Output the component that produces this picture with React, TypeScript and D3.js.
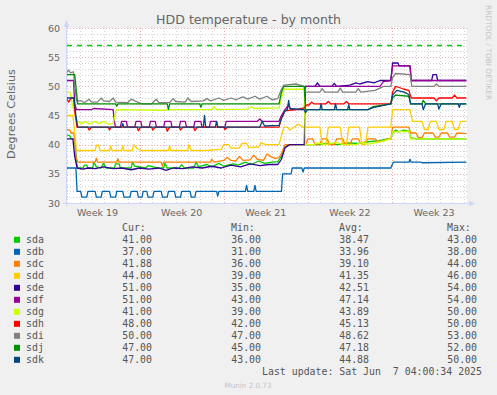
import React from 'react';
import * as d3 from 'd3';

// munin "HDD temperature - by month"
const W = 497;
const H = 395;
const plot = { left: 67, top: 28, width: 400, height: 175 };

// time is kept in days counted from Sun 4 May 2025 00:00 UTC
const DAY0 = Date.UTC(2025, 4, 4);
const toDate = (d: number) => new Date(DAY0 + d * 864e5);
const timeDomain = [0.96, 34.24];

const weekLabels = ['Week 19', 'Week 20', 'Week 21', 'Week 22', 'Week 23'];
const weekLabelDays = [3.5, 10.5, 17.5, 24.5, 31.5];

const yDomain = [30, 60];
const warning = [[0.96, 57], [33.82, 57]];

const names = ['sda', 'sdb', 'sdc', 'sdd', 'sde', 'sdf', 'sdg', 'sdh', 'sdi', 'sdj', 'sdk'];
const colors = ['#00CC00', '#0066B3', '#FF8000', '#FFCC00', '#330099', '#990099', '#CCFF00', '#FF0000', '#808080', '#008F00', '#00487D'];
const curVals = ['41.00', '37.00', '41.88', '44.00', '51.00', '51.00', '41.00', '48.00', '50.00', '47.00', '47.00'];
const minVals = ['36.00', '31.00', '36.00', '39.00', '35.00', '43.00', '39.00', '42.00', '47.00', '45.00', '43.00'];
const avgVals = ['38.47', '33.96', '39.10', '41.35', '42.51', '47.14', '43.89', '45.13', '48.62', '47.18', '44.88'];
const maxVals = ['43.00', '38.00', '44.00', '46.00', '54.00', '54.00', '50.00', '50.00', '53.00', '52.00', '50.00'];

const sda = [[0.96,41.7],[1.2,41.5],[1.3,41],[1.6,41],[1.75,37],[1.85,36],[2.3,36],[2.4,36.5],[2.6,36.5],[2.7,36],[3.1,36],[3.2,37],[3.4,36.2],[3.8,36],[4.0,36.8],[4.2,36],[4.9,36],[5.0,36.7],[5.3,36.7],[5.4,36],[6.3,36],[6.4,37],[6.6,36.3],[7.5,36],[7.7,36.4],[8.5,36],[9.0,36],[9.1,36.8],[9.3,36],[10.3,36],[10.5,36.6],[10.7,36],[11.5,36],[11.7,37],[11.9,36.2],[12.6,36.6],[13.0,36.2],[13.6,36.8],[14.0,36.3],[14.8,36.7],[15.2,36.5],[15.8,37],[16.3,36.6],[16.9,37.2],[17.4,36.8],[18.0,37],[18.5,37.1],[18.8,38],[19.1,39.5],[19.4,40],[20.8,40],[22.0,40],[22.5,40.2],[23.5,40],[24.3,40.3],[25.2,40.2],[26,40.5],[27,40.7],[27.6,41],[27.9,41],[28.05,42],[28.3,42.5],[28.6,42.2],[29.0,42.5],[29.4,42.3],[29.55,41.2],[30,41],[34.18,41]];
const sdb = [[0.96,36],[1.7,36],[1.8,32],[2.1,32],[2.2,31],[2.6,31],[2.7,32],[3.3,32],[3.4,31],[3.8,31],[3.9,32],[4.5,32],[4.6,31],[5.0,31],[5.1,32],[5.6,32],[5.7,31],[6.2,31],[6.3,32],[6.8,32],[6.9,31],[7.2,31],[7.3,32],[7.6,32],[7.7,31],[8.1,31],[8.2,32],[8.8,32],[8.9,31],[9.3,31],[9.4,32],[9.9,32],[10.0,31],[10.4,31],[10.5,32],[11.2,32],[11.3,31],[11.6,31],[11.7,32],[13.4,32],[13.5,31.2],[13.6,32],[15.8,32],[15.9,33],[16.0,32],[16.5,32],[16.6,33],[16.7,32],[18.8,32],[18.9,35],[19.6,35],[19.7,36],[20.5,36],[20.6,35.3],[20.7,36],[27.9,36],[28.1,37],[29.4,37],[29.5,37.5],[29.6,37],[30.4,37],[30.5,36.9],[34.18,37]];
const sdc = [[0.96,42.6],[1.2,42.5],[1.3,42],[1.5,42],[1.6,41],[1.7,38],[1.85,37],[3.3,37],[3.4,37.7],[3.5,37],[5.1,37],[5.2,37.6],[5.3,37],[8.8,37],[8.9,36.3],[9.0,37],[12.9,37],[13.0,37.5],[13.2,37],[14.0,37.3],[14.3,37.8],[14.6,37.3],[15.0,37.2],[15.3,38],[15.6,37.3],[16.2,37.4],[16.5,38.2],[16.8,37.5],[17.3,37.3],[17.6,38.4],[17.9,38],[18.3,37.6],[18.6,37.8],[18.8,38.5],[19.1,40],[20.8,40],[21.0,41],[21.4,41],[21.6,40],[22.0,40.2],[22.2,41],[22.6,41],[22.8,40],[23.2,40],[23.4,41],[23.9,41],[24.1,40],[24.5,40],[24.7,41],[25.2,41],[25.4,40.2],[25.8,40.5],[26.0,41],[26.6,41],[26.8,40.5],[27.3,40.6],[27.6,41],[27.9,41],[28.05,43],[29.4,43],[29.55,42],[30.0,42],[30.2,41.2],[30.5,41.2],[30.7,42],[31.4,42],[31.6,41.3],[31.9,41.3],[32.1,42],[32.6,42],[32.8,41.3],[33.2,41.3],[33.4,42],[34.18,41.9]];
const sdd = [[0.96,45],[1.45,45],[1.6,42],[1.75,39],[3.3,39],[3.4,39.9],[3.6,39.9],[3.7,39],[4.5,39],[4.6,39.8],[4.7,39],[5.5,39],[5.6,39.8],[5.7,39],[6.4,39],[6.5,40],[6.8,39.3],[7.2,39],[9.4,39],[9.5,39.8],[9.6,39],[11.0,39],[11.1,40],[11.3,39],[12.5,39],[13.8,39.2],[14.0,40],[14.4,40],[14.6,39.4],[15.3,39.4],[15.5,40.2],[15.9,40.2],[16.1,39.5],[16.9,39.6],[17.1,40.3],[17.5,40],[18.6,40],[18.8,41.5],[19.0,43],[19.3,43],[19.5,42.5],[20.2,43.5],[20.6,43],[22.0,43],[22.2,40],[22.5,40],[22.7,43],[23.7,43],[23.9,40],[24.2,40],[24.4,43],[25.3,43],[25.5,40],[25.8,40],[26.0,43],[27.9,43],[28.05,46],[29.5,46],[29.7,44],[30.5,44],[30.7,42.6],[31,42.6],[31.2,44],[31.7,44],[31.9,42.6],[32.3,42.6],[32.5,44],[33.0,44],[33.2,42.6],[33.5,42.6],[33.7,44],[34.18,44]];
const sde = [[0.96,41],[1.45,41],[1.6,38],[1.8,36],[2.3,35.8],[2.7,36],[3.3,35.9],[4.0,36.2],[4.8,35.9],[5.5,36],[6.3,35.7],[7.0,36],[7.8,35.8],[8.6,36],[9.2,35.6],[9.8,36],[10.6,35.9],[11.4,36.2],[12.2,36],[13.0,36.3],[13.8,36],[14.6,36.5],[15.4,36.2],[16.2,36.7],[17.0,36.4],[17.8,36.6],[18.5,36.6],[18.8,37.5],[19.1,39.5],[19.5,40],[20.7,40],[20.8,50],[21.6,50],[21.8,50.6],[22.0,50],[23.0,50],[23.2,50.5],[23.4,50],[24.5,50.2],[25.0,50.6],[25.3,50.4],[26.0,50.8],[26.5,50.6],[27.0,51],[27.9,51],[28.05,54],[28.5,54],[28.6,53.5],[29.5,53.5],[29.6,51],[31.3,51],[31.4,52],[31.7,52],[31.8,51],[34.18,51]];
const sdf = [[0.96,51],[1.5,51],[1.6,47],[1.75,46],[3.0,46],[3.2,46.2],[4.8,46],[4.9,44],[5.0,43],[5.4,43],[5.5,44],[5.9,44],[6.0,43],[6.6,43],[6.7,44],[7.1,44],[7.2,43],[7.8,43],[7.9,44],[8.3,44],[8.4,43],[9.0,43],[9.1,44],[9.6,44],[9.7,43],[10.3,43],[10.4,44],[10.8,44],[10.9,43],[11.5,43],[11.6,44],[12.1,44],[12.2,43],[12.8,43],[12.9,44],[13.4,44],[13.5,43],[14.1,43],[14.2,44],[16.8,44],[17.0,44.4],[17.2,44],[18.6,44],[18.8,45],[19.1,46],[19.4,46.8],[19.6,46],[20.7,46],[20.8,50],[27.0,50],[27.3,50.8],[27.9,51],[28.05,53.5],[29.5,53.5],[29.6,51],[34.18,51]];
const sdg = [[0.96,49],[1.2,49],[1.5,46],[1.8,44],[2.2,43.6],[2.5,44],[2.8,43.5],[3.3,44],[3.6,43.6],[4.0,44],[4.4,43.5],[4.8,43.6],[4.95,45],[5.05,46],[9.0,45.9],[9.5,46],[13.0,46],[13.2,46.5],[13.4,46],[16.0,46.1],[16.3,46.5],[16.5,46.2],[18.6,46.3],[18.8,48],[19.0,49.5],[20.7,49.5],[20.8,40],[21.5,40],[21.7,40.3],[22.5,40],[23.3,40.4],[24.0,40],[25.0,40],[25.5,40.4],[26.0,40.1],[27.0,40.5],[27.9,41],[28.05,42.2],[29.4,42.3],[29.55,41],[34.18,41]];
const sdh = [[0.96,47.8],[1.1,47.3],[1.3,48],[1.5,48],[1.65,45],[1.8,43],[2.7,43],[2.8,42.5],[3.0,43],[4.4,43],[4.5,42.5],[4.6,43],[6.8,43],[6.9,42.4],[7.1,43],[8.0,43],[8.1,42.5],[8.3,43],[9.2,43],[9.3,42.3],[9.5,43],[10.3,43],[10.4,42.5],[10.6,43],[11.5,43],[11.6,42.4],[11.8,43],[14.0,43],[14.1,42.6],[14.3,43],[18.6,43],[18.8,44.5],[19.1,45.8],[20.0,46],[20.7,46.3],[20.9,46.8],[21.1,46.8],[21.3,47.3],[21.5,47],[22.5,47],[22.7,47.4],[22.9,47],[24.0,47],[24.2,47.4],[24.4,47],[27.9,47],[28.05,49],[28.3,50],[28.6,49.8],[29.0,49.5],[29.4,49.3],[29.6,48],[31.5,48],[31.7,47.5],[31.9,48],[33.0,48],[33.2,48.5],[33.4,48],[34.18,48]];
const sdi = [[0.96,52.4],[1.1,52.8],[1.25,52.3],[1.5,52.5],[1.6,50],[1.75,47.5],[2.2,47.5],[2.4,47.2],[2.8,47.8],[3.0,47.3],[3.5,47.3],[3.8,48],[4.0,47.5],[4.5,47.4],[4.8,48],[5.0,47.3],[6.0,47.2],[6.3,47.8],[6.6,47.5],[7.2,47],[8.0,47],[8.4,47.8],[8.6,47.2],[9.5,47.2],[9.8,47.9],[10.0,47.4],[10.8,47.3],[11.0,48],[11.3,47.4],[12.3,47.5],[12.6,47.9],[12.9,47.5],[13.6,48],[14.0,47.6],[14.6,48],[15.0,47.7],[15.6,48.2],[16.0,47.8],[16.6,48.3],[17.0,47.8],[17.6,48.3],[18.0,47.7],[18.5,47.9],[18.8,49.5],[19.0,50.2],[20.0,50.4],[20.7,50],[20.8,49],[22.0,49],[22.2,49.6],[22.4,49],[23.5,49],[23.7,49.7],[23.9,49],[25.0,49],[25.2,49.6],[25.4,49],[26.6,49.3],[27.3,50],[27.9,50],[28.05,51.5],[28.3,52.2],[29.5,52],[29.65,50],[31.5,50],[31.7,50.4],[31.9,50],[34.18,50]];
const sdj = [[0.96,52],[1.6,52],[1.75,49],[1.85,47],[5.0,47],[5.1,46.6],[5.2,47],[9.3,47],[9.4,46],[9.5,47],[12.0,47],[12.1,46.4],[12.2,47],[18.6,47],[18.8,49],[19.0,50],[20.7,50],[20.8,46],[26.0,46],[26.4,46.5],[27.0,46.7],[27.9,47],[28.05,48],[28.3,48.5],[29.4,48.3],[29.55,47],[30.5,47],[30.6,47.6],[30.8,47],[34.18,47]];
const sdk = [[0.96,48],[1.55,48],[1.7,45],[1.85,43],[5.5,43],[5.6,43.6],[5.7,43],[12.3,43],[12.4,45],[12.5,43],[13.3,43],[13.4,44],[13.5,43],[17.0,43],[17.2,44],[17.4,43.2],[18.6,43.3],[18.8,44.5],[19.1,45.8],[19.3,46],[19.4,47.6],[19.5,46.2],[20.7,46],[20.8,45.5],[21.0,46],[22.0,46],[22.1,47],[22.2,46],[23.2,46],[23.3,47],[23.4,46],[24.3,46],[24.4,46.8],[24.5,46],[26.0,46],[26.5,46.4],[27.0,46.6],[27.9,47],[28.05,48.5],[28.4,49.3],[29.0,49],[29.4,48.6],[29.55,47],[30.5,47],[30.6,46],[30.8,47],[31.8,47],[31.9,46.1],[32.1,47],[33.5,47],[33.6,46.4],[33.7,47],[34.18,47]];

const series = [sda, sdb, sdc, sdd, sde, sdf, sdg, sdh, sdi, sdj, sdk];

const FONT = '"DejaVu Sans", sans-serif';
const MONO = '"DejaVu Sans Mono", monospace';
const MINOR = '#d2d2d2';
const MAJOR = '#e8aaaa';

const App = () => {
  const x = d3.scaleUtc()
    .domain(timeDomain.map(toDate))
    .range([plot.left, plot.left + plot.width]);
  const y = d3.scaleLinear()
    .domain(yDomain)
    .range([plot.top + plot.height, plot.top]);

  const line = d3.line<number[]>()
    .x(d => x(toDate(d[0])))
    .y(d => y(d[1]));

  const [t0, t1] = x.domain();
  const days = d3.utcDay.range(t0, t1);
  const weeks = d3.utcSunday.range(t0, t1);
  const minorY = y.ticks(30);
  const majorY = y.ticks(6);
  const bottom = plot.top + plot.height;
  const right = plot.left + plot.width;

  return (
    <svg width={W} height={H} style={{ position: 'absolute', left: 0, top: 0 }}>
      <rect width={W} height={H} fill="#F0F0F0" />
      <rect x={plot.left} y={plot.top} width={plot.width} height={plot.height} fill="#FFFFFF" />

      <text x={W / 2} y={24} textAnchor="middle" fontFamily={FONT} fontSize={12.6} fill="#666">
        HDD temperature - by month
      </text>
      <text transform="translate(15,114) rotate(-90)" textAnchor="middle" fontFamily={FONT} fontSize={11.2} fill="#666">
        Degrees Celsius
      </text>
      <text transform="translate(486,5) rotate(90)" fontFamily={FONT} fontSize={7.4} fill="#c4c4c4">
        RRDTOOL / TOBI OETIKER
      </text>

      {/* grid */}
      <g shapeRendering="crispEdges">
        {minorY.filter(v => !majorY.includes(v)).map(v => (
          <line key={'my' + v} x1={plot.left} x2={right} y1={Math.round(y(v)) + 0.5} y2={Math.round(y(v)) + 0.5}
            stroke={MINOR} strokeDasharray="1,2" />
        ))}
        {days.map(d => (
          <line key={'md' + +d} x1={Math.round(x(d)) + 0.5} x2={Math.round(x(d)) + 0.5} y1={plot.top} y2={bottom}
            stroke={MINOR} strokeDasharray="1,2" />
        ))}
        {majorY.map(v => (
          <line key={'My' + v} x1={plot.left} x2={right} y1={Math.round(y(v)) + 0.5} y2={Math.round(y(v)) + 0.5}
            stroke={MAJOR} strokeDasharray="1,2" />
        ))}
        {weeks.map(d => (
          <line key={'Mw' + +d} x1={Math.round(x(d)) + 0.5} x2={Math.round(x(d)) + 0.5} y1={plot.top} y2={bottom}
            stroke={MAJOR} strokeDasharray="1,2" />
        ))}
      </g>

      {/* tick labels */}
      {majorY.map(v => (
        <text key={'yl' + v} x={60} y={y(v) + 3.5} textAnchor="end" fontFamily={FONT} fontSize={9.5} fill="#666">
          {v}
        </text>
      ))}
      {weekLabels.map((w, i) => (
        <text key={w} x={x(toDate(weekLabelDays[i]))} y={216} textAnchor="middle" fontFamily={FONT} fontSize={9.5} fill="#666">
          {w}
        </text>
      ))}

      <clipPath id="plotclip">
        <rect x={plot.left} y={plot.top} width={plot.width} height={plot.height} />
      </clipPath>
      <g clipPath="url(#plotclip)" fill="none">
        <path d={line(warning) || ''} stroke="#00CC00" strokeWidth={1.5} strokeDasharray="5,5" />
        {series.map((s, i) => (
          <path key={names[i]} d={line(s) || ''} stroke={colors[i]} strokeWidth={1.3} strokeLinejoin="round" />
        ))}
      </g>

      {/* axes with arrows */}
      <g stroke="#CFD6F8" shapeRendering="crispEdges">
        <line x1={plot.left - 0.5} x2={plot.left - 0.5} y1={bottom + 3} y2={plot.top - 5} />
        <line x1={plot.left - 4} x2={right + 3} y1={bottom + 0.5} y2={bottom + 0.5} />
      </g>
      <g fill="#CFD6F8">
        <path d={`M${plot.left - 3.5},${plot.top - 1}L${plot.left + 2.5},${plot.top - 1}L${plot.left - 0.5},${plot.top - 8}Z`} />
        <path d={`M${right + 2},${bottom - 2.5}L${right + 2},${bottom + 3.5}L${right + 8},${bottom + 0.5}Z`} />
      </g>

      {/* legend */}
      <g fontFamily={MONO} fontSize={9.9} fill="#555">
        <text x={122} y={231}>Cur:</text>
        <text x={231} y={231}>Min:</text>
        <text x={339} y={231}>Avg:</text>
        <text x={447} y={231}>Max:</text>
        {names.map((n, i) => {
          const by = 243.3 + i * 12;
          return (
            <g key={n}>
              <rect x={14} y={by - 6.5} width={6} height={6} fill={colors[i]} />
              <text x={26} y={by}>{n}</text>
              <text x={152} y={by} textAnchor="end">{curVals[i]}</text>
              <text x={261} y={by} textAnchor="end">{minVals[i]}</text>
              <text x={369} y={by} textAnchor="end">{avgVals[i]}</text>
              <text x={477} y={by} textAnchor="end">{maxVals[i]}</text>
            </g>
          );
        })}
        <text x={482} y={375.3} textAnchor="end" xmlSpace="preserve" style={{ whiteSpace: 'pre' }}>
          {'Last update: Sat Jun  7 04:00:34 2025'}
        </text>
      </g>
      <text x={248} y={387.5} textAnchor="middle" fontFamily={FONT} fontSize={7.2} fill="#c4c4c4">
        Munin 2.0.73
      </text>
    </svg>
  );
};

export default App;
